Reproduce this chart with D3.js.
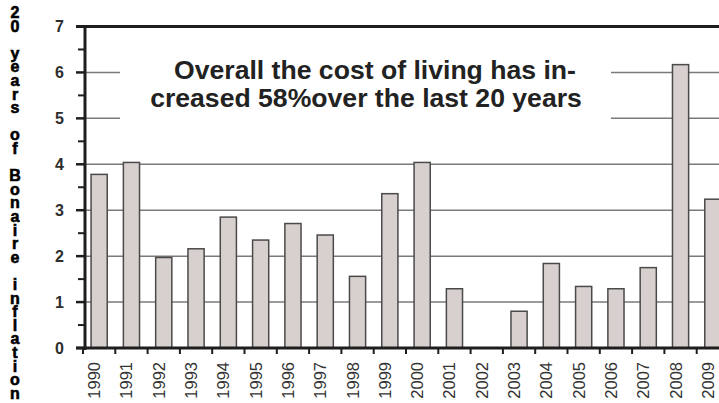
<!DOCTYPE html>
<html lang="en">
<head>
  <meta charset="UTF-8" />
  <title>20 years of Bonaire inflation</title>
  <style>
    body {
      margin: 0;
      background: #fff;
      font-family: "Liberation Sans", Arial, sans-serif;
    }
    svg {
      display: block;
      background: #fff;
    }
  </style>
</head>
<body>
  <svg id="chart" width="719" height="403" viewBox="0 0 719 403" xmlns="http://www.w3.org/2000/svg"></svg>

  <script src="https://d3js.org/d3.v7.min.js"></script>
  <script>
    // Data
    const years = ["1990", "1991", "1992", "1993", "1994", "1995", "1996", "1997", "1998", "1999",
                   "2000", "2001", "2002", "2003", "2004", "2005", "2006", "2007", "2008", "2009"];
    const inflation = [3.78, 4.04, 1.97, 2.16, 2.85, 2.35, 2.71, 2.46, 1.56, 3.36,
                       4.04, 1.29, 0, 0.80, 1.84, 1.34, 1.29, 1.75, 6.17, 3.24];
    const yTicks = [0, 1, 2, 3, 4, 5, 6, 7];
    const yMinorTicks = [0.5, 1.5, 2.5, 3.5, 4.5, 5.5, 6.5];
    const sideTitle = "20 years of Bonaire inflation";
    const noteLines = ["Overall the cost of living has in-", "creased 58%over the last 20 years"];

    const width = 719;
    const svg = d3.select("#chart");

    const x0 = 83;
    const step = 32.3;
    const x = d3.scaleBand()
      .domain(years)
      .range([x0, x0 + step * years.length])
      .paddingInner(0.5)
      .paddingOuter(0.25);

    const y = d3.scaleLinear()
      .domain([0, 7])
      .range([348, 26.5]);

    const axisX = 85;

    // gridlines
    svg.append("g")
      .selectAll("line")
      .data(yTicks.filter(d => d > 0 && d < 7))
      .enter().append("line")
      .attr("x1", axisX)
      .attr("x2", width)
      .attr("y1", d => y(d))
      .attr("y2", d => y(d))
      .attr("stroke", "#7a7a7a")
      .attr("stroke-width", 1.5);

    // white box behind the note
    svg.append("rect")
      .attr("x", 120)
      .attr("y", 50)
      .attr("width", 491)
      .attr("height", 90)
      .attr("fill", "#fff");

    const note = svg.append("text")
      .attr("font-size", 26.6)
      .attr("font-weight", "bold")
      .attr("fill", "#222")
      .attr("text-anchor", "middle");
    note.append("tspan").attr("x", 375).attr("y", 79).text(noteLines[0]);
    note.append("tspan").attr("x", 366).attr("y", 107).text(noteLines[1]);

    // bars
    svg.append("g")
      .selectAll("rect")
      .data(years)
      .enter().append("rect")
      .attr("x", d => x(d))
      .attr("y", (d, i) => y(inflation[i]))
      .attr("width", x.bandwidth())
      .attr("height", (d, i) => y(0) - y(inflation[i]))
      .attr("fill", "#d8d0ce")
      .attr("stroke", "#4a4a4a")
      .attr("stroke-width", 1.5);

    // axes
    const axisColor = "#1e1e1e";
    svg.append("line")
      .attr("x1", axisX).attr("x2", axisX)
      .attr("y1", y(7) - 1).attr("y2", y(0) + 2)
      .attr("stroke", axisColor).attr("stroke-width", 3);
    svg.append("line")
      .attr("x1", 76).attr("x2", width)
      .attr("y1", y(0)).attr("y2", y(0))
      .attr("stroke", axisColor).attr("stroke-width", 3);
    svg.append("line")
      .attr("x1", 76).attr("x2", width)
      .attr("y1", y(7)).attr("y2", y(7))
      .attr("stroke", axisColor).attr("stroke-width", 3);

    // y ticks
    svg.append("g")
      .selectAll("line")
      .data(yTicks)
      .enter().append("line")
      .attr("x1", 76).attr("x2", axisX)
      .attr("y1", d => y(d)).attr("y2", d => y(d))
      .attr("stroke", axisColor).attr("stroke-width", 2.5);
    svg.append("g")
      .selectAll("line")
      .data(yMinorTicks)
      .enter().append("line")
      .attr("x1", 78).attr("x2", axisX)
      .attr("y1", d => y(d)).attr("y2", d => y(d))
      .attr("stroke", axisColor).attr("stroke-width", 2);

    svg.append("g")
      .selectAll("text")
      .data(yTicks)
      .enter().append("text")
      .attr("x", 64)
      .attr("y", d => y(d))
      .attr("dy", "0.36em")
      .attr("text-anchor", "end")
      .attr("font-size", 16)
      .attr("font-weight", "bold")
      .attr("fill", "#2e2e2e")
      .text(d => d);

    // x ticks at slot boundaries
    const pad = (x.step() - x.bandwidth()) / 2;
    svg.append("g")
      .selectAll("line")
      .data(years)
      .enter().append("line")
      .attr("x1", d => x(d) - pad).attr("x2", d => x(d) - pad)
      .attr("y1", y(0)).attr("y2", y(0) + 6)
      .attr("stroke", axisColor).attr("stroke-width", 2);

    svg.append("g")
      .selectAll("text")
      .data(years)
      .enter().append("text")
      .attr("transform", d => `translate(${x(d) + x.bandwidth() / 2 - 5},362) rotate(-90)`)
      .attr("dy", "0.36em")
      .attr("text-anchor", "end")
      .attr("font-size", 16.5)
      .attr("fill", "#333")
      .text(d => d);

    // stacked side title: one text, one upright letter per line
    svg.append("text")
      .attr("font-size", 16)
      .attr("font-weight", "bold")
      .attr("fill", "#000")
      .attr("stroke", "#000")
      .attr("stroke-width", 0.6)
      .attr("text-anchor", "middle")
      .selectAll("tspan")
      .data(sideTitle.split(""))
      .enter().append("tspan")
      .attr("x", 15)
      .attr("y", (d, i) => 18 + i * 13.6)
      .text(d => d);
  </script>
</body>
</html>
